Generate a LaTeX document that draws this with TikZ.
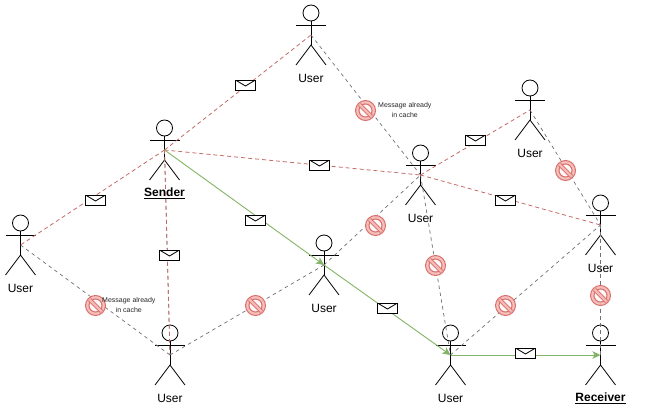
\documentclass[tikz,border=0pt]{standalone}
\usepackage{fontspec}
\setmainfont{Liberation Sans}
\usetikzlibrary{arrows.meta}

\definecolor{msgred}{HTML}{C46A66}
\definecolor{msggreen}{HTML}{82B366}
\definecolor{msggrey}{HTML}{707070}
\definecolor{blockfill}{HTML}{F4B8B5}
\definecolor{blockline}{HTML}{D9706C}

\tikzset{
  actor/.pic={
    \draw[line width=0.8pt] (0,-22) circle (8);
    \draw[line width=0.8pt] (-15,-10) -- (15,-10);
    \draw[line width=0.8pt] (0,-14) -- (0,10);
    \draw[line width=0.8pt] (-15,30) -- (0,10) -- (15,30);
  },
  actorlabel/.style={font=\fontsize{12}{14}\selectfont, inner sep=0pt},
  redlink/.style={draw=msgred, line width=0.8pt, dash pattern=on 4pt off 3pt},
  greylink/.style={draw=msggrey, line width=0.7pt, dash pattern=on 3.5pt off 3.5pt},
  greenlink/.style={draw=msggreen, line width=0.9pt, -{Stealth[length=8pt,width=7.5pt,inset=2pt]}},
  envelope/.style={draw=black, fill=white, line width=0.9pt, minimum width=20pt, minimum height=10pt, inner sep=0pt,
    path picture={
      \draw[line width=0.8pt] (path picture bounding box.north west) -- ([yshift=-1pt]path picture bounding box.center) -- (path picture bounding box.north east);
    }},
  blocked/.style={circle, draw=blockline, fill=blockfill, line width=1pt, minimum size=20pt, inner sep=0pt, fill opacity=0.9,
    path picture={
      \draw[blockline, fill=white, line width=1pt] (path picture bounding box.center) circle (6.5pt);
      \draw[blockline, line width=4pt] ([xshift=-6pt,yshift=6pt]path picture bounding box.center) -- ([xshift=6pt,yshift=-6pt]path picture bounding box.center);
      \draw[blockfill, line width=2.2pt] ([xshift=-6pt,yshift=6pt]path picture bounding box.center) -- ([xshift=6pt,yshift=-6pt]path picture bounding box.center);
    }},
  cachenote/.style={font=\fontsize{7}{9.5}\selectfont, align=center, inner sep=0pt, text=black!85},
}

\begin{document}
\begin{tikzpicture}[x=1pt, y=-1pt]
  \useasboundingbox (0,0) rectangle (661,412);

  % Users
  \foreach \nm/\px/\py/\txt in {
    top/311/35/User,
    sender/164.5/150/{\textbf{\underline{Sender}}},
    left/20.5/245/User,
    hub/420.5/175/User,
    far/530/110/User,
    east/600.5/225/User,
    mid/324/265/User,
    south/170/355/User,
    relay/450.5/355/User,
    receiver/600.5/355/{\textbf{\underline{Receiver}}}
  } {
    \coordinate (\nm) at (\px,\py);
    \pic at (\nm) {actor};
    \node[actorlabel] (\nm label) at (\px,\py+43.5) {\txt};
  }

  % Links that carried nothing
  \foreach \a/\b in {top/hub, left/south, south/mid, mid/hub, hub/relay, relay/east, far/east, east/receiver, sender/south}
    \draw[greylink] (\a) -- (\b);

  % Flooded copies
  \foreach \a/\b in {sender/top, sender/left, sender/hub, sender/south, hub/far, hub/east}
    \draw[redlink] (\a) -- (\b);

  % Delivered path
  \draw[greenlink] (sender) -- (mid);
  \draw[greenlink] (mid) -- (relay);
  \draw[greenlink] (relay) -- (receiver);

  % Envelopes
  \foreach \nm/\px/\py in {m1/245.5/85, m2/95.5/200, m3/169.5/255, m4/319.5/165, m5/255.5/220, m6/387.5/308, m7/475.5/140, m8/505.5/200, m9/525.5/353}
    \node[envelope] (\nm) at (\px,\py) {};

  % Blocked copies
  \foreach \nm/\px/\py in {b1/365.5/110.5, b2/565.5/170.5, b3/375.5/225.5, b4/435.5/265.5, b5/505.5/305.5, b6/600.5/295.5, b7/255.5/305.5, b8/95.5/305.5}
    \node[blocked] (\nm) at (\px,\py) {};

  \node[cachenote, anchor=west] (note1) at (378,110) {Message already\\in cache};
  \node[cachenote, anchor=west] (note2) at (102,305) {Message already\\in cache};
\end{tikzpicture}
\end{document}
